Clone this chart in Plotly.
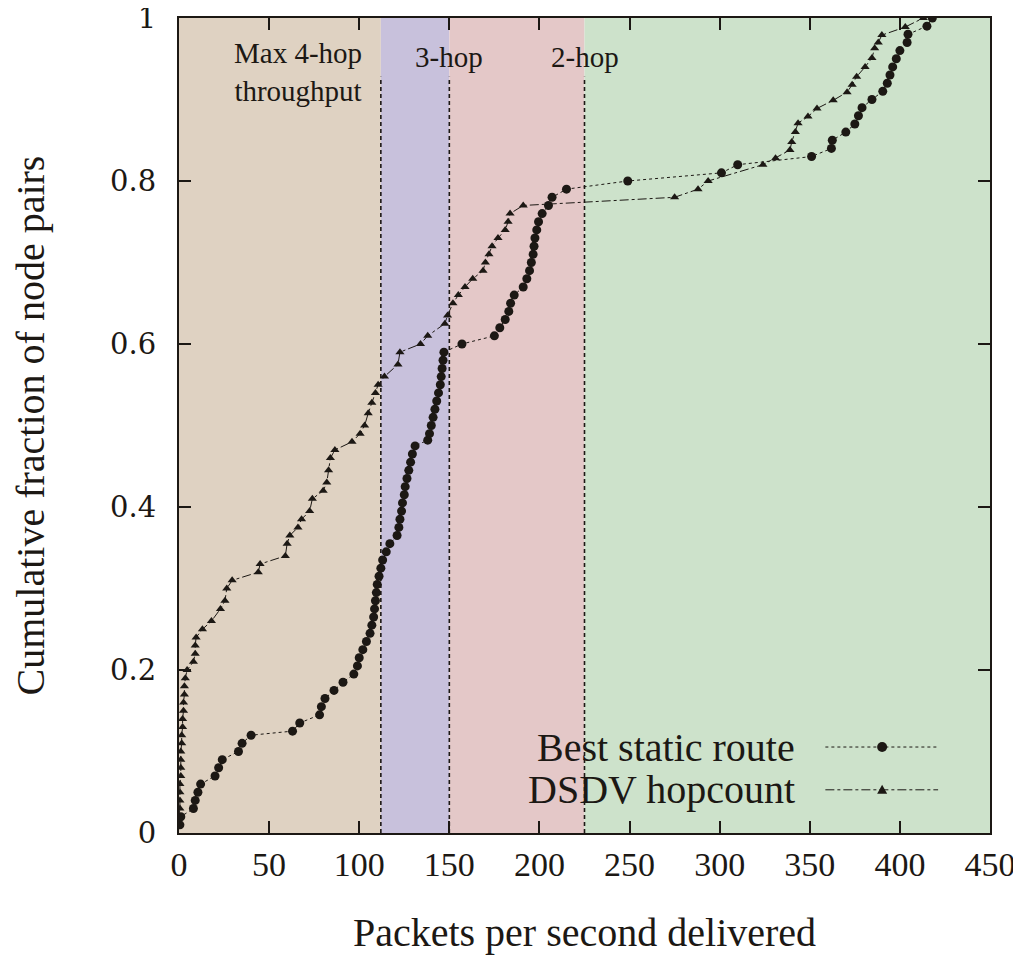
import plotly.graph_objects as go

# ---------------- data ----------------
static_x = [0.5, 1, 8, 9, 10.5, 12, 20, 22, 24, 33, 35, 40,
            63, 67, 78, 79, 81, 86, 91, 97, 99, 100, 102, 104, 106, 107, 108, 108.5,
            109, 109.5, 110, 111, 112, 113, 115, 117, 121, 122, 122.6, 123.5, 124,
            125, 125.5, 126.5, 127.5, 128.5, 129.5, 131, 138, 139, 140, 141, 142,
            143, 144, 145, 145.5, 146, 146.5, 147, 157, 175, 178, 181, 183, 184,
            186, 191, 193, 194.5, 195.5, 196.5, 197, 197.5, 198.5, 199.5, 201.5,
            205, 207, 215, 249, 301, 310, 351, 362, 362.5, 370, 375, 377, 379,
            384.5, 390.5, 393, 394.5, 396, 398, 400, 404, 404.5, 415, 418]
static_y = [0.01, 0.02, 0.03, 0.04, 0.05, 0.06, 0.07, 0.08, 0.09, 0.10, 0.11, 0.12,
            0.125, 0.135, 0.145, 0.155, 0.165, 0.175, 0.185, 0.195, 0.205, 0.215, 0.225,
            0.235, 0.245, 0.255, 0.265, 0.275, 0.285, 0.295, 0.305, 0.315, 0.325, 0.335,
            0.345, 0.355, 0.365, 0.375, 0.385, 0.395, 0.405, 0.415, 0.425, 0.435, 0.445,
            0.455, 0.465, 0.475, 0.482, 0.49, 0.50, 0.51, 0.52, 0.53, 0.54, 0.55, 0.56,
            0.57, 0.58, 0.59, 0.60, 0.61, 0.62, 0.63, 0.64, 0.65, 0.66, 0.67, 0.68,
            0.69, 0.70, 0.71, 0.72, 0.73, 0.74, 0.75, 0.76, 0.77, 0.78, 0.79, 0.80,
            0.81, 0.82, 0.83, 0.84, 0.85, 0.86, 0.87, 0.88, 0.89, 0.90, 0.91, 0.92,
            0.93, 0.94, 0.95, 0.96, 0.97, 0.98, 0.99, 1.0]

dsdv_x = [0, 0, 0.5, 0.5, 0.5, 0.5, 1, 1, 1, 1, 1.5, 1.5, 2, 2, 2.5, 2.5, 3, 3, 3.5,
          4.5, 8, 9, 9, 9.5, 13, 18, 23, 25.5, 26.5, 29.5, 44, 45, 59, 60, 61.5, 66,
          68, 72.5, 74, 80, 82, 83, 84, 86.5, 96, 100.5, 103, 105, 107, 109, 110.5,
          114, 121.5, 122.6, 134, 138, 147.5, 149, 152, 155, 158.7, 163, 168.7, 170,
          172, 173.7, 177, 181, 182.6, 183.7, 191, 275, 288, 293.6, 324, 331, 339,
          340, 342, 343.5, 349, 354, 363, 370.7, 373.5, 376, 380.7, 384.5, 386, 388,
          390, 403, 413]
dsdv_y = [0.01, 0.02, 0.03, 0.04, 0.05, 0.06, 0.07, 0.08, 0.09, 0.10, 0.11, 0.12,
          0.13, 0.14, 0.15, 0.16, 0.17, 0.18, 0.19, 0.20, 0.21, 0.22, 0.23, 0.24, 0.25,
          0.26, 0.275, 0.285, 0.30, 0.31, 0.32, 0.33, 0.34, 0.355, 0.365, 0.375, 0.385,
          0.395, 0.41, 0.42, 0.43, 0.445, 0.46, 0.47, 0.48, 0.49, 0.50, 0.515, 0.528,
          0.54, 0.55, 0.56, 0.575, 0.59, 0.60, 0.61, 0.625, 0.635, 0.65, 0.66, 0.67,
          0.68, 0.69, 0.70, 0.71, 0.72, 0.73, 0.74, 0.75, 0.76, 0.77, 0.78, 0.79, 0.80,
          0.82, 0.828, 0.838, 0.848, 0.86, 0.871, 0.879, 0.889, 0.899, 0.909, 0.918,
          0.928, 0.94, 0.951, 0.963, 0.97, 0.979, 0.989, 1.0]

region_edges = [0, 112, 150, 225, 450]
region_colors = ["#dfd2c2", "#c8c1dc", "#e4c8c8", "#cde2cb"]
region_labels = ["Max 4-hop<br>throughput", "3-hop", "2-hop"]
region_label_x = [66, 150, 225]
region_label_y = [0.934, 0.952, 0.952]
series_names = ["Best static route", "DSDV hopcount"]
x_ticks = [0, 50, 100, 150, 200, 250, 300, 350, 400, 450]
y_ticks = [0, 0.2, 0.4, 0.6, 0.8, 1]
y_ticktext = ["0", "0.2", "0.4", "0.6", "0.8", "1"]

INK = "#1c1814"
SERIF = "Liberation Serif, Times New Roman, serif"

fig = go.Figure()

fig.add_trace(go.Scatter(
    x=static_x, y=static_y, mode="lines+markers", name=series_names[0],
    line=dict(color=INK, width=1, dash="dot"),
    marker=dict(symbol="circle", size=9, color=INK),
    showlegend=False))
fig.add_trace(go.Scatter(
    x=dsdv_x, y=dsdv_y, mode="lines+markers", name=series_names[1],
    line=dict(color=INK, width=1, dash="dashdot"),
    marker=dict(symbol="triangle-up", size=8, color=INK),
    showlegend=False))

shapes = []
for i in range(4):
    shapes.append(dict(type="rect", xref="x", yref="paper",
                       x0=region_edges[i], x1=region_edges[i + 1], y0=0, y1=1,
                       fillcolor=region_colors[i], line=dict(width=0), layer="below"))
for e in region_edges[1:4]:
    shapes.append(dict(type="line", xref="x", yref="paper", x0=e, x1=e, y0=0, y1=0.928,
                       line=dict(color=INK, width=1.6, dash="4px,3px")))

# legend keys (gnuplot style: text left, sample right)
leg_rows = [0.1055, 0.053]
leg_dash = ["dot", "dashdot"]
for r, d in zip(leg_rows, leg_dash):
    shapes.append(dict(type="line", xref="paper", yref="paper", x0=0.797, x1=0.936,
                       y0=r, y1=r, line=dict(color=INK, width=1, dash=d)))
shapes.append(dict(type="circle", xref="paper", yref="paper", xsizemode="pixel",
                   ysizemode="pixel", xanchor=0.867, yanchor=leg_rows[0],
                   x0=-5, x1=5, y0=-5, y1=5, fillcolor=INK, line=dict(width=0)))
shapes.append(dict(type="path", xref="paper", yref="paper", xsizemode="pixel",
                   ysizemode="pixel", xanchor=0.867, yanchor=leg_rows[1],
                   path="M -5,-4 L 5,-4 L 0,5 Z", fillcolor=INK, line=dict(width=0)))

annotations = []
for t, xx, yy in zip(region_labels, region_label_x, region_label_y):
    annotations.append(dict(text=t, x=xx, y=yy, xref="x", yref="paper",
                            showarrow=False, xanchor="center", yanchor="middle",
                            font=dict(family=SERIF, size=29, color=INK)))
for t, r in zip(series_names, leg_rows):
    annotations.append(dict(text=t, x=0.762, y=r, xref="paper", yref="paper",
                            showarrow=False, xanchor="right", yanchor="middle",
                            font=dict(family=SERIF, size=40, color=INK)))

# the page body adds an 8px offset, so the figure is 8px smaller and margins compensate
fig.update_layout(
    width=1013, height=949,
    margin=dict(l=171, r=31, t=10, b=124),
    paper_bgcolor="white", plot_bgcolor="white",
    shapes=shapes, annotations=annotations,
    xaxis=dict(range=[0, 450], tickvals=x_ticks, ticks="inside", ticklen=12,
               tickwidth=1.5, tickcolor=INK, showline=True, linecolor=INK,
               linewidth=2, mirror="ticks", showgrid=False, zeroline=False,
               automargin=False, ticklabelstandoff=0, ticklabeloverflow="allow",
               tickfont=dict(family=SERIF, size=34, color=INK),
               title=dict(text="Packets per second delivered", standoff=36,
                          font=dict(family=SERIF, size=40, color=INK))),
    yaxis=dict(range=[0, 1], tickvals=y_ticks, ticktext=y_ticktext,
               ticks="inside", ticklen=12,
               tickwidth=1.5, tickcolor=INK, showline=True, linecolor=INK,
               linewidth=2, mirror="ticks", showgrid=False, zeroline=False,
               automargin=False, ticklabelstandoff=15, ticklabeloverflow="allow",
               tickfont=dict(family="DejaVu Serif, serif", size=29, color=INK),
               title=dict(text="Cumulative fraction of node pairs", standoff=58,
                          font=dict(family=SERIF, size=40, color=INK))),
)

fig.write_html("out.html")
